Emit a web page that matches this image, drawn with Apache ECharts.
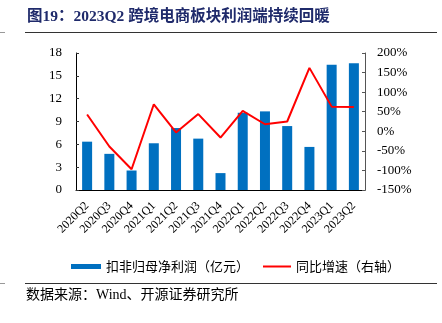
<!DOCTYPE html>
<html><head><meta charset="utf-8">
<script src="https://cdn.jsdelivr.net/npm/echarts@6/dist/echarts.min.js"></script>
<style>html,body{margin:0;padding:0;background:#fff}#c{width:442px;height:323px}</style>
</head><body><div id="c"></div>
<script>
const categories = ['2020Q2','2020Q3','2020Q4','2021Q1','2021Q2','2021Q3','2021Q4','2022Q1','2022Q2','2022Q3','2022Q4','2023Q1','2023Q2'];
const profit = [6.35, 4.75, 2.56, 6.14, 8.14, 6.75, 2.22, 10.15, 10.33, 8.4, 5.66, 16.47, 16.64];
const growth = [43, -39, -97, 69, -3, 44, -16, 52, 18, 25, 162, 63, 62];
const leftTicks = {min: 0, max: 18, interval: 3};
const rightTicks = {min: -150, max: 200, interval: 50};

const serif = 'Liberation Serif, "Noto Sans CJK SC"';
const cjk = '"Noto Sans CJK SC"';
const chart = echarts.init(document.getElementById('c'));
chart.setOption({
  animation: false,
  grid: {left: 76, right: 77, top: 53, bottom: 133},
  legend: [
    {left: 66, top: 255, itemWidth: 30, itemHeight: 5,
     textStyle: {fontFamily: cjk, fontSize: 13, color: '#000'},
     data: [{name: '扣非归母净利润（亿元）', icon: 'rect'}]},
    {left: 258, top: 255, itemWidth: 28, itemHeight: 2,
     textStyle: {fontFamily: cjk, fontSize: 13, color: '#000'},
     data: [{name: '同比增速（右轴）', icon: 'rect'}]}
  ],
  xAxis: {
    type: 'category', data: categories,
    axisLine: {lineStyle: {color: '#000', width: 1}},
    axisTick: {inside: true, length: 3, lineStyle: {color: '#333'}},
    axisLabel: {rotate: 45, fontFamily: serif, fontSize: 12, color: '#000', margin: 14, interval: 0}
  },
  yAxis: [
    {type: 'value', min: leftTicks.min, max: leftTicks.max, interval: leftTicks.interval,
     splitLine: {show: false},
     axisLine: {show: true, lineStyle: {color: '#000'}},
     axisTick: {show: true, inside: true, length: 3, lineStyle: {color: '#333'}},
     axisLabel: {fontFamily: serif, fontSize: 13, color: '#000', margin: 14}},
    {type: 'value', min: rightTicks.min, max: rightTicks.max, interval: rightTicks.interval,
     splitLine: {show: false},
     axisLine: {show: true, lineStyle: {color: '#555'}},
     axisTick: {show: true, inside: true, length: 3, lineStyle: {color: '#555'}},
     axisLabel: {fontFamily: serif, fontSize: 13, color: '#000', margin: 12, formatter: '{value}%'}}
  ],
  series: [
    {name: '扣非归母净利润（亿元）', type: 'bar', data: profit, barWidth: 10,
     itemStyle: {color: '#0070C0'}},
    {name: '同比增速（右轴）', type: 'line', yAxisIndex: 1, data: growth,
     symbol: 'none', lineStyle: {color: '#FF0000', width: 2}, itemStyle: {color: '#FF0000'}}
  ],
  graphic: [
    {type: 'text', left: 27, top: 9, style: {text: '图19：2023Q2 跨境电商板块利润端持续回暖',
      font: 'bold 15.5px Liberation Serif, "Noto Sans CJK SC"', fill: '#1F2A6B'}},
    {type: 'line', shape: {x1: 25, y1: 32.5, x2: 437, y2: 32.5}, style: {stroke: '#333', lineWidth: 1}},
    {type: 'line', shape: {x1: 0, y1: 32.5, x2: 5, y2: 32.5}, style: {stroke: '#999', lineWidth: 1}},
    {type: 'line', shape: {x1: 25, y1: 283.5, x2: 437, y2: 283.5}, style: {stroke: '#333', lineWidth: 1}},
    {type: 'line', shape: {x1: 0, y1: 283.5, x2: 5, y2: 283.5}, style: {stroke: '#999', lineWidth: 1}},
    {type: 'text', left: 26, top: 288, style: {text: '数据来源：Wind、开源证券研究所',
      font: '14px Liberation Serif, "Noto Sans CJK SC"', fill: '#000'}}
  ]
});
</script></body></html>
